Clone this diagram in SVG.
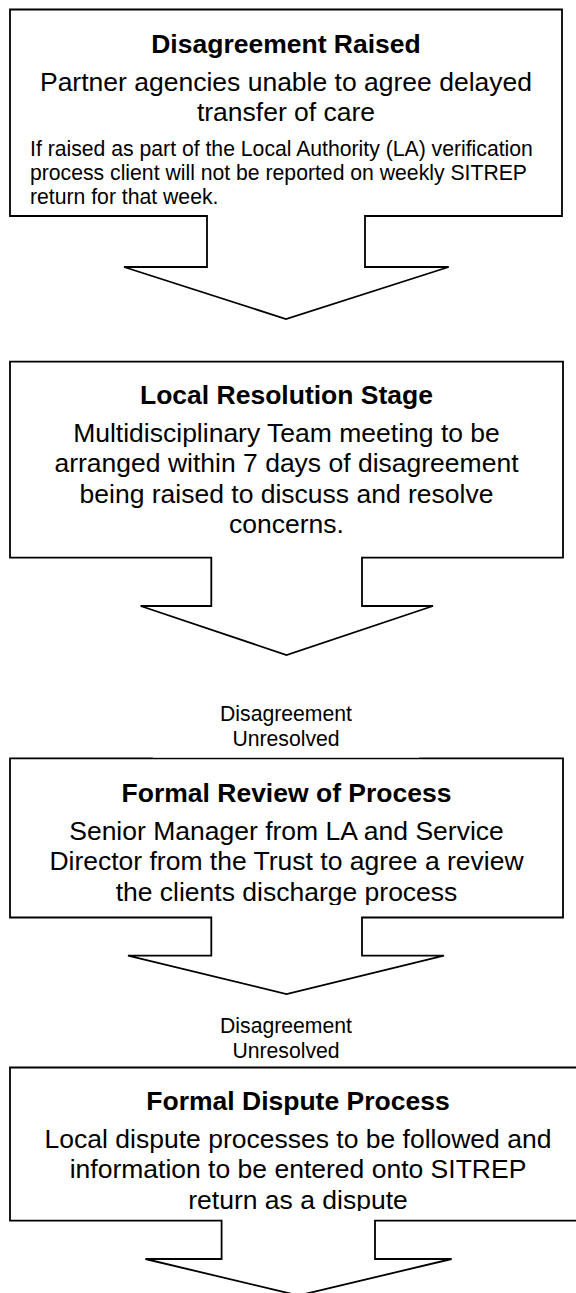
<svg xmlns="http://www.w3.org/2000/svg" width="576" height="1293" viewBox="0 0 576 1293">
<style>
.shape{fill:#fff;stroke:#000;stroke-width:1.8;stroke-linejoin:miter}
text{font-family:"Liberation Sans",Arial,sans-serif;fill:#000}
.t{font-size:26.5px;font-weight:bold;text-anchor:middle}
.b{font-size:26.5px;text-anchor:middle}
.s{font-size:21.2px}
.l{font-size:21.2px;text-anchor:middle}
</style>
<defs>
<clipPath id="clip3"><rect x="10" y="760" width="553" height="145"/></clipPath>
<clipPath id="clip4"><rect x="10" y="1069" width="566" height="142"/></clipPath>
</defs>
<rect width="576" height="1293" fill="#fff"/>
<g id="node-disagreement-raised">
<path class="shape" d="M10,9.5 H562 V216 H365 V267 H448.7 L286,319 L124,267 H207 V216 H10 Z"/>
<text class="t" x="286" y="53.3">Disagreement Raised</text>
<text class="b" x="286" y="91">Partner agencies unable to agree delayed</text>
<text class="b" x="286" y="120.7">transfer of care</text>
<text class="s" x="30" y="155.7">If raised as part of the Local Authority (LA) verification</text>
<text class="s" x="30" y="180">process client will not be reported on weekly SITREP</text>
<text class="s" x="30" y="204">return for that week.</text>
</g>
<g id="node-local-resolution">
<path class="shape" d="M10,361.7 H563 V557.7 H362 V606 H433 L286.5,655 L140.6,606 H211.3 V557.7 H10 Z"/>
<text class="t" x="286.5" y="404">Local Resolution Stage</text>
<text class="b" x="286.5" y="441.5">Multidisciplinary Team meeting to be</text>
<text class="b" x="286.5" y="472">arranged within 7 days of disagreement</text>
<text class="b" x="286.5" y="502.5">being raised to discuss and resolve</text>
<text class="b" x="286.5" y="533">concerns.</text>
</g>
<g id="node-formal-review">
<path class="shape" d="M10,758.3 H563 V917.5 H362 V955.7 H444 L286.5,994 L128,955.7 H211.3 V917.5 H10 Z"/>
<rect x="153" y="745" width="266" height="12.6" fill="#fff"/>
<text class="t" x="286.5" y="801.7">Formal Review of Process</text>
<g clip-path="url(#clip3)">
<text class="b" x="286.5" y="840">Senior Manager from LA and Service</text>
<text class="b" x="286.5" y="870">Director from the Trust to agree a review</text>
<text class="b" x="286.5" y="900.5">the clients discharge process</text>
</g>
</g>
<g id="node-formal-dispute">
<path class="shape" d="M10,1067.5 H592 V1220.7 H375 V1259 H451.6 L298.5,1295.5 L145.4,1259 H221.6 V1220.7 H10 Z"/>
<text class="t" x="298" y="1110">Formal Dispute Process</text>
<g clip-path="url(#clip4)">
<text class="b" x="298" y="1148.3">Local dispute processes to be followed and</text>
<text class="b" x="298" y="1178.3">information to be entered onto SITREP</text>
<text class="b" x="298" y="1208.5">return as a dispute</text>
</g>
</g>
<g id="connectors">
<text class="l" x="286" y="721">Disagreement</text>
<text class="l" x="286" y="746">Unresolved</text>
<text class="l" x="286" y="1033">Disagreement</text>
<text class="l" x="286" y="1057.7">Unresolved</text>
</g>
</svg>
